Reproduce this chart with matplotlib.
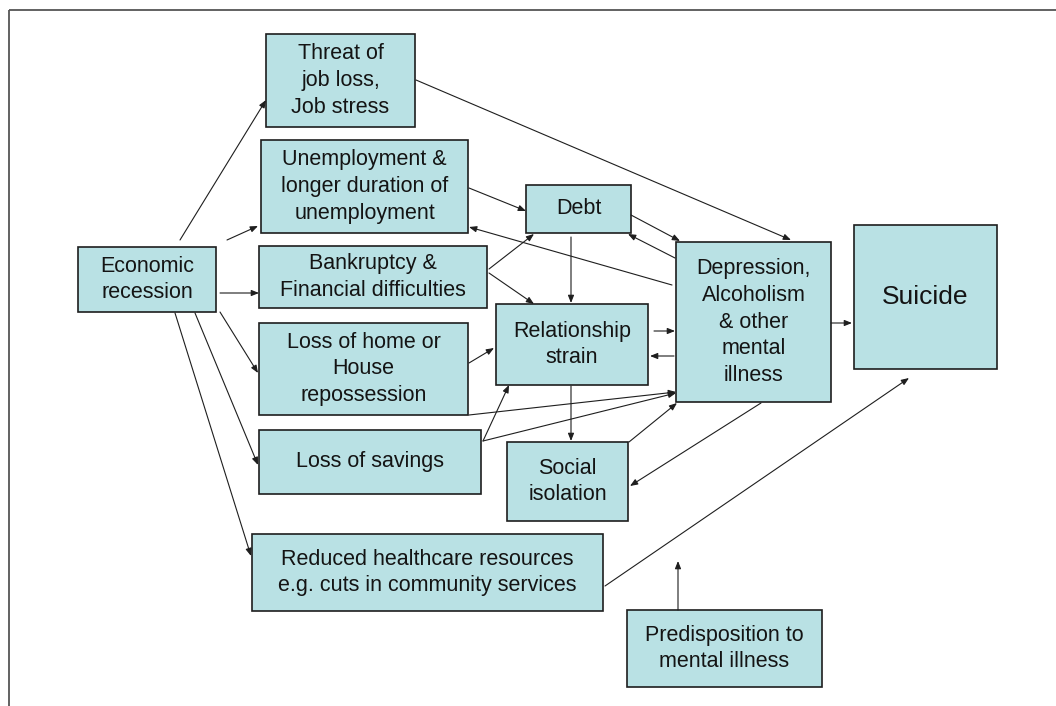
import matplotlib
matplotlib.use("Agg")
import matplotlib.pyplot as plt
from matplotlib.patches import Rectangle

plt.rcParams['font.family'] = ['Liberation Sans', 'DejaVu Sans']

# ---- diagram content ----
labels = [
    "Threat of\njob loss,\nJob stress",
    "Unemployment &\nlonger duration of\nunemployment",
    "Economic\nrecession",
    "Bankruptcy &\nFinancial difficulties",
    "Loss of home or\nHouse\nrepossession",
    "Loss of savings",
    "Reduced healthcare resources\ne.g. cuts in community services",
    "Debt",
    "Relationship\nstrain",
    "Depression,\nAlcoholism\n& other\nmental\nillness",
    "Suicide",
    "Social\nisolation",
    "Predisposition to\nmental illness",
]
# box geometry in pixel units (left, top, right, bottom)
box_left   = [266, 261,  78, 259, 259, 259, 252, 526, 496, 676, 854, 507, 627]
box_top    = [ 34, 140, 247, 246, 323, 430, 534, 185, 304, 242, 225, 442, 610]
box_right  = [415, 468, 216, 487, 468, 481, 603, 631, 648, 831, 997, 628, 822]
box_bottom = [127, 233, 312, 308, 415, 494, 611, 233, 385, 402, 369, 521, 687]
label_size = [15.5] * 10 + [19] + [15.5] * 2

# arrows: start (x0, y0) -> end (x1, y1)
arrow_x0 = [180, 227, 220, 220, 195, 175, 416, 469, 672, 631, 675, 489, 489, 571,
            654, 674, 469, 483, 469, 483, 571, 629, 761, 831, 605, 678]
arrow_y0 = [240, 240, 293, 312, 313, 313,  80, 188, 285, 215, 258, 269, 273, 237,
            331, 356, 363, 441, 415, 441, 386, 442, 403, 323, 586, 610]
arrow_x1 = [266, 258, 259, 258, 258, 251, 791, 526, 469, 680, 628, 534, 534, 571,
            675, 650, 494, 509, 676, 676, 571, 677, 630, 852, 909, 678]
arrow_y1 = [100, 226, 293, 373, 465, 556, 240, 211, 227, 241, 234, 234, 304, 303,
            331, 356, 348, 385, 392, 393, 441, 403, 486, 323, 378, 561]

W, H = 1056, 706
fig = plt.figure(figsize=(W / 100, H / 100), dpi=100)
ax = fig.add_axes([0, 0, 1, 1])
ax.set_xlim(0, W)
ax.set_ylim(H, 0)
ax.axis('off')

# outer frame (top and left edges visible)
ax.plot([9, W], [10, 10], color='#555555', lw=1.3, solid_capstyle='butt')
ax.plot([9, 9], [10, H], color='#555555', lw=1.3, solid_capstyle='butt')

fill = '#b9e1e4'
edge = '#1e1e1e'
for lab, l, t, r, b, fs in zip(labels, box_left, box_top, box_right, box_bottom, label_size):
    ax.add_patch(Rectangle((l, t), r - l, b - t, facecolor=fill, edgecolor=edge,
                           lw=1.2, zorder=2))
    ax.text((l + r) / 2, (t + b) / 2, lab, ha='center', va='center',
            fontsize=fs, color='#141414', linespacing=1.36, zorder=3)

for x0, y0, x1, y1 in zip(arrow_x0, arrow_y0, arrow_x1, arrow_y1):
    ax.annotate('', xy=(x1, y1), xytext=(x0, y0),
                arrowprops=dict(arrowstyle='-|>,head_length=0.45,head_width=0.18',
                                color='#1e1e1e', lw=0.8, shrinkA=0, shrinkB=0),
                zorder=4)

fig.savefig('out.png', dpi=100)
